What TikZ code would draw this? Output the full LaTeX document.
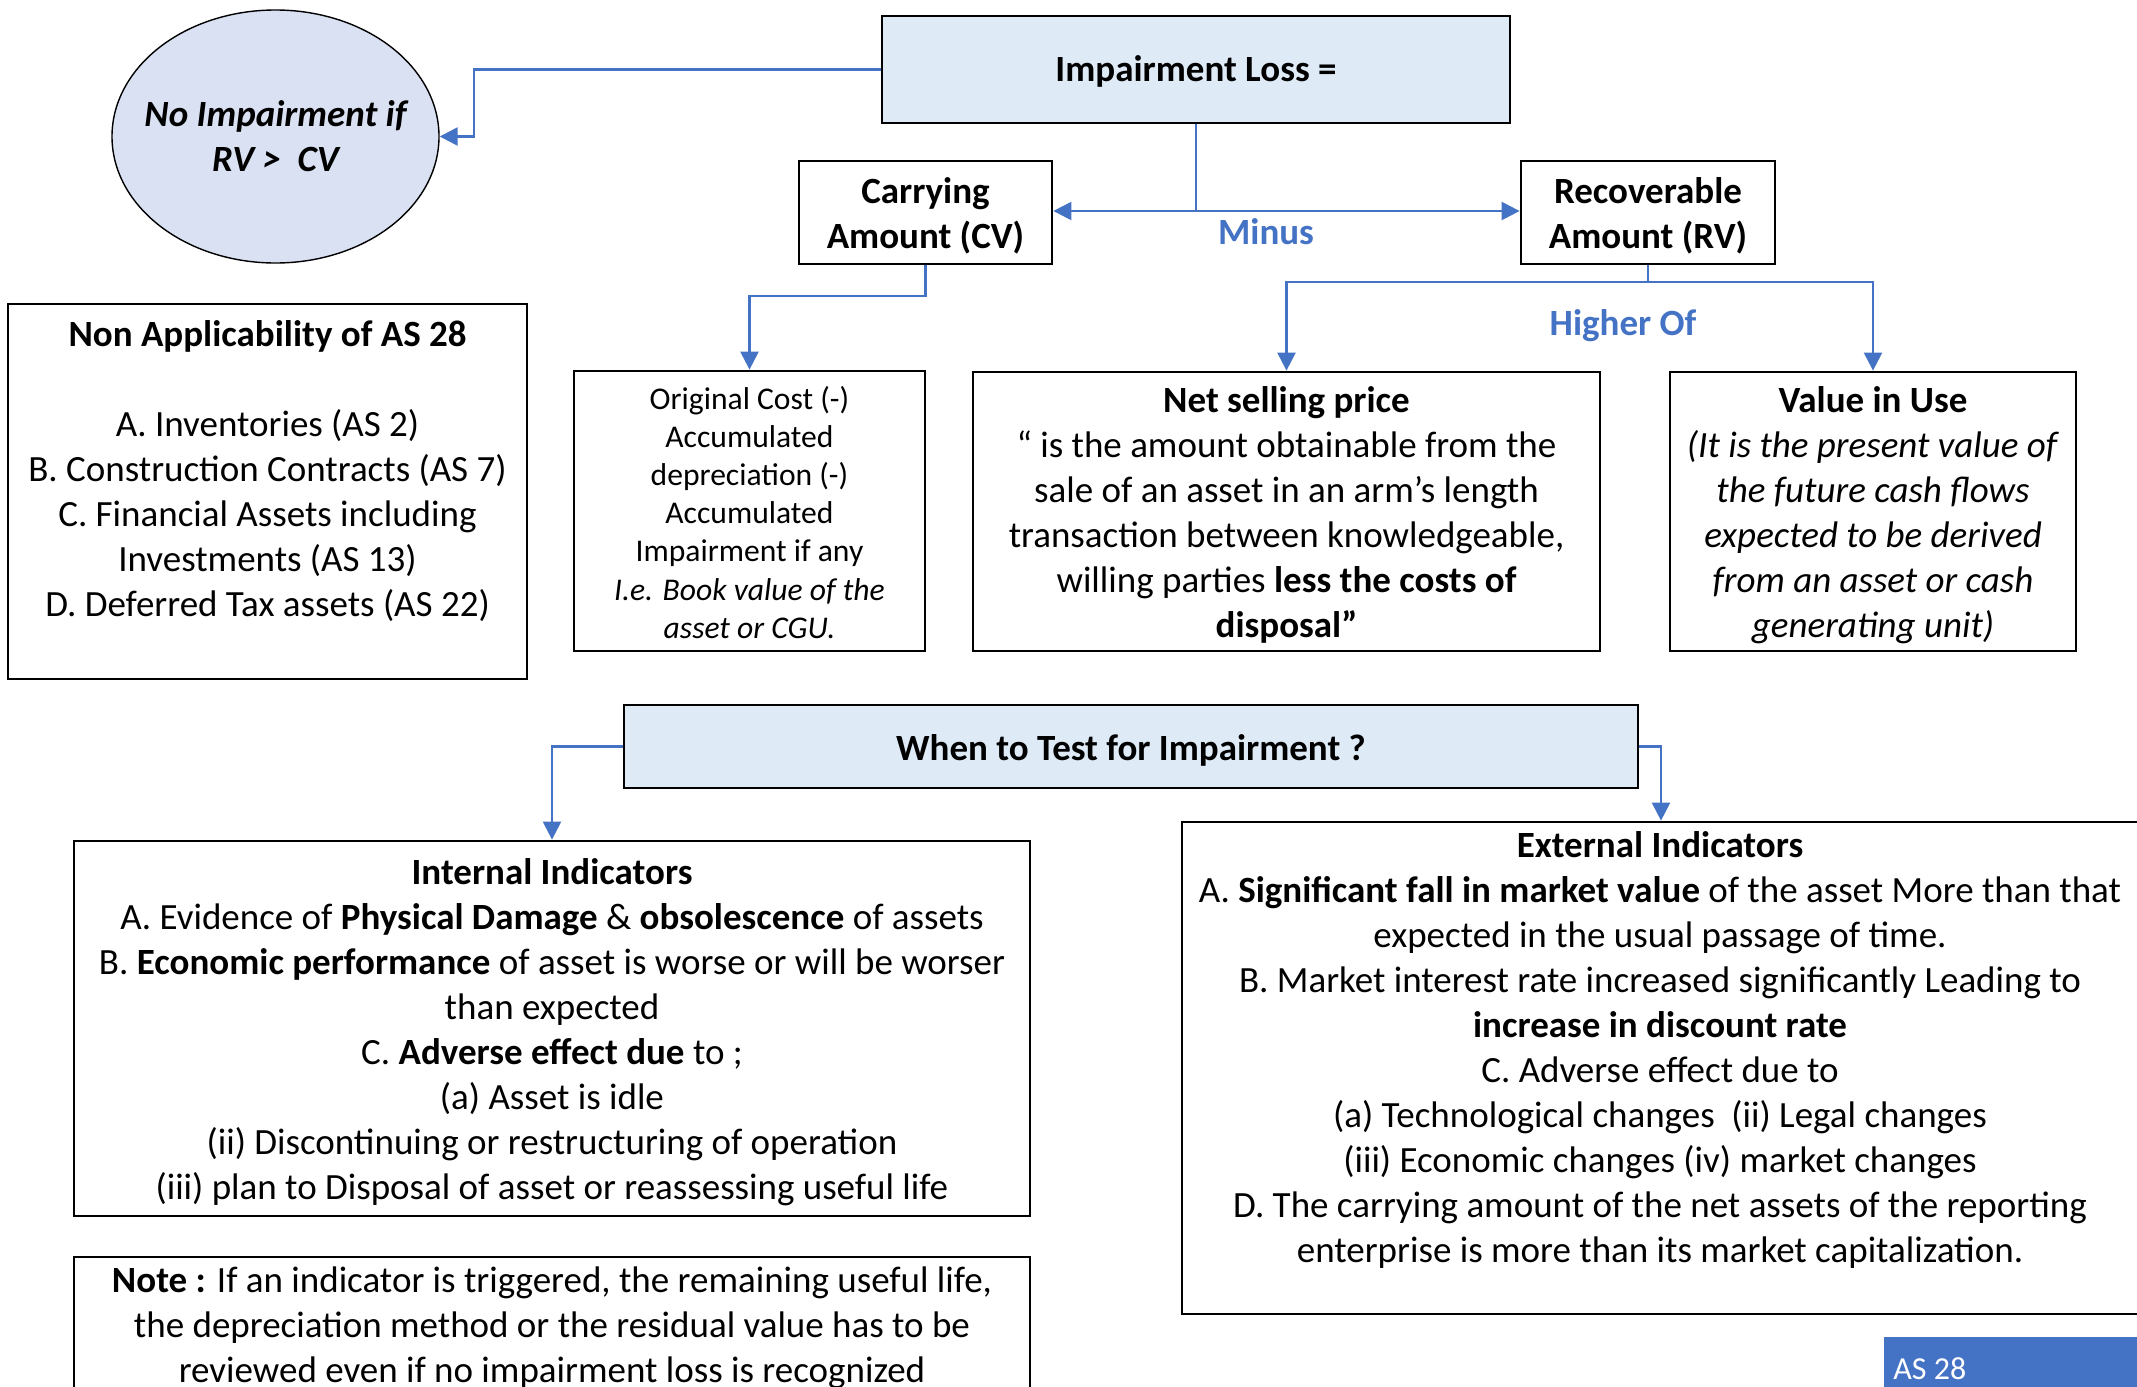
\documentclass[tikz,border=0pt]{standalone}
\usepackage{fontspec}
\setmainfont{Carlito}
\usetikzlibrary{arrows.meta,shapes.geometric,calc}
\definecolor{linkblue}{HTML}{4472C4}
\definecolor{boxfill}{HTML}{DEEBF7}
\definecolor{ellfill}{HTML}{DAE1F3}
\newcommand\fsA{\fontsize{18.5}{22.5}\selectfont}
\newcommand\fsB{\fontsize{15.8}{19.1}\selectfont}
\begin{document}
\begin{tikzpicture}[x=0.5pt,y=-0.5pt,
  box/.style={draw=black,line width=1.4pt,rectangle,inner sep=0pt},
  conn/.style={draw=linkblue,line width=1.2pt,-{Triangle[length=9pt,width=9pt]}},
  plainconn/.style={draw=linkblue,line width=1.2pt},
  txt/.style={align=center,inner sep=0pt,font=\fsA},
  intxt/.style={txt,yshift=-1.75pt},
  bluelbl/.style={text=linkblue,font=\fsA\bfseries,inner sep=0pt}]
\useasboundingbox (0,0) rectangle (2137,1387);
\clip (0,0) rectangle (2137,1387);
\fill[white] (0,0) rectangle (2137,1387);

% top row
\node[box,fill=boxfill,minimum width=314pt,minimum height=53.5pt] (il) at (1196,69.5) {};
\node[txt,font=\fsA\bfseries,yshift=-1pt] (iltxt) at (il.center) {Impairment Loss =};
\node[ellipse,draw=black,line width=0.7pt,fill=ellfill,minimum width=163.5pt,minimum height=126.5pt,inner sep=0pt] (ell) at (275.5,136.5) {};
\node[txt,font=\fsA\bfseries\itshape] (elltxt) at (ell.center) {No Impairment if\\RV >~ CV};
\node[box,minimum width=126.5pt,minimum height=51.5pt] (cv) at (925.5,212.5) {};
\node[intxt,font=\fsA\bfseries] (cvtxt) at (cv.center) {Carrying\\Amount (CV)};
\node[box,minimum width=127pt,minimum height=51.5pt] (rv) at (1648,212.5) {};
\node[intxt,font=\fsA\bfseries] (rvtxt) at (rv.center) {Recoverable\\Amount (RV)};

% second row
\node[box,minimum width=175.5pt,minimum height=140pt] (oc) at (749.5,511) {};
\node[txt,font=\fsB,yshift=-0.6pt] (octxt) at (oc.center) {Original Cost (-)\\Accumulated\\depreciation (-)\\Accumulated\\Impairment if any\\\textit{I.e. Book value of the}\\\textit{asset or CGU.}};
\node[box,minimum width=313.5pt,minimum height=139.5pt] (nsp) at (1286.5,511.5) {};
\node[intxt] (nsptxt) at (nsp.center) {\textbf{Net selling price}\\“ is the amount obtainable from the\\sale of an asset in an arm’s length\\transaction between knowledgeable,\\willing parties \textbf{less the costs of}\\\textbf{disposal”}};
\node[box,minimum width=203pt,minimum height=139.5pt] (viu) at (1873,511.5) {};
\node[intxt] (viutxt) at (viu.center) {\textbf{Value in Use}\\\textit{(It is the present value of}\\\textit{the future cash flows}\\\textit{expected to be derived}\\\textit{from an asset or cash}\\\textit{generating unit)}};
\node[box,minimum width=259.5pt,minimum height=187.5pt] (na) at (267.5,491.5) {};
\node[txt] (natxt) at (267.5,471) {\textbf{Non Applicability of AS 28}\\[22.5pt]A. Inventories (AS 2)\\B. Construction Contracts (AS 7)\\C. Financial Assets including\\Investments (AS 13)\\D. Deferred Tax assets (AS 22)};

% when to test
\node[box,fill=boxfill,minimum width=507pt,minimum height=41.5pt] (when) at (1131,746.5) {};
\node[intxt,font=\fsA\bfseries] (whentxt) at (when.center) {When to Test for Impairment ?};
\node[box,minimum width=478pt,minimum height=187.5pt] (int) at (552,1028.5) {};
\node[intxt] (inttxt) at (int.center) {\textbf{Internal Indicators}\\A. Evidence of \textbf{Physical Damage} \& \textbf{obsolescence} of assets\\B. \textbf{Economic performance} of asset is worse or will be worser\\than expected\\C. \textbf{Adverse effect due} to ;\\(a) Asset is idle\\(ii) Discontinuing or restructuring of operation\\(iii) plan to Disposal of asset or reassessing useful life};
\node[box,minimum width=478pt,minimum height=70pt] (note) at (552,1327) {};
\node[txt,yshift=-0.6pt] (notetxt) at (note.center) {\textbf{Note :} If an indicator is triggered, the remaining useful life,\\the depreciation method or the residual value has to be\\reviewed even if no impairment loss is recognized};
\node[box,minimum width=479pt,minimum height=246pt] (ext) at (1661,1068) {};
\node[txt] (exttxt) at (1660,1050) {\textbf{External Indicators}\\A. \textbf{Significant fall in market value} of the asset More than that\\expected in the usual passage of time.\\B. Market interest rate increased significantly Leading to\\\textbf{increase in discount rate}\\C. Adverse effect due to\\(a) Technological changes\ \ (ii) Legal changes\\(iii) Economic changes (iv) market changes\\D. The carrying amount of the net assets of the reporting\\enterprise is more than its market capitalization.};

% AS 28 tag
\node[fill=linkblue,inner sep=0pt,minimum width=128pt,minimum height=26.5pt] (as) at (2012,1363.5) {};
\node[anchor=west,inner sep=0pt,text=white,font=\fontsize{16}{19}\selectfont] (astxt) at (1893,1369) {AS 28};

% connectors
\coordinate (j1) at (474,136.5);
\draw[conn] (il.west) -| (j1) -- (ell.east);
\coordinate (j2) at (1196,211);
\draw[plainconn] (il.south) -- (j2);
\draw[conn] (j2) -- (j2 -| cv.east);
\draw[conn] (j2) -- (j2 -| rv.west);
\node[bluelbl] (minus) at (1266,232) {Minus};
\coordinate (j3) at (925.5,296);
\draw[conn] (cv.south) -- (j3) -| (oc.north);
\coordinate (j4) at (1648,282);
\draw[plainconn] (rv.south) -- (j4);
\draw[conn] (j4) -| (nsp.north);
\draw[conn] (j4) -| (viu.north);
\node[bluelbl] (higher) at (1623,326) {Higher Of};
\draw[conn] (when.west) -| (int.north);
\draw[conn] (when.east) -| (ext.north);
\end{tikzpicture}
\end{document}
